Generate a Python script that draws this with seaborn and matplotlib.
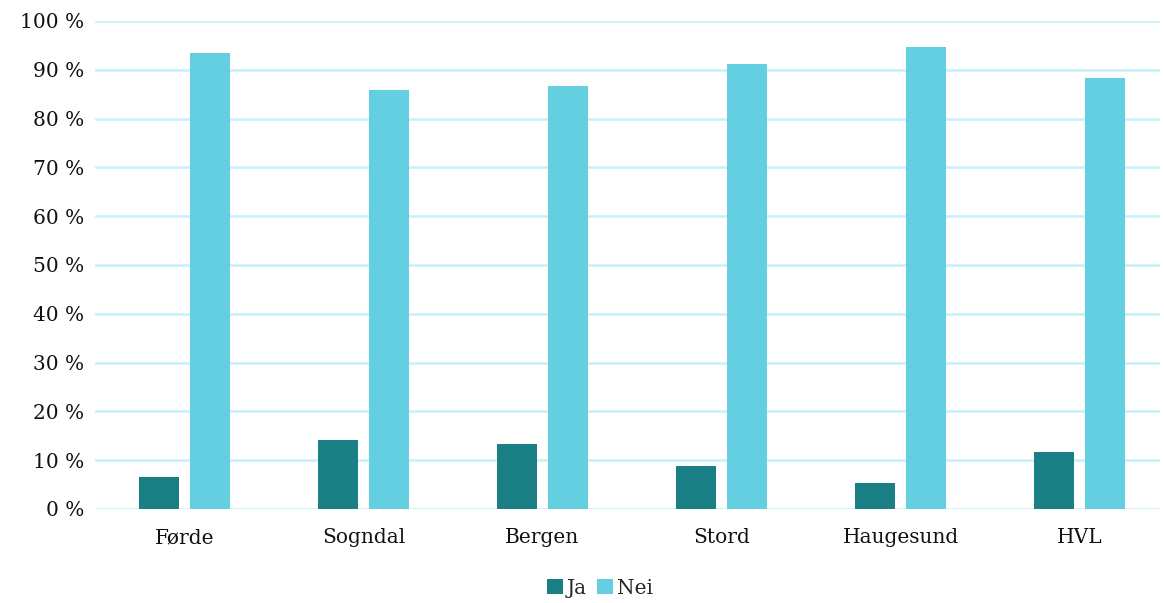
import pandas as pd
import numpy as np
import matplotlib.pyplot as plt
import seaborn as sns

campus = ['Førde', 'Sogndal', 'Bergen', 'Stord', 'Haugesund', 'HVL']
ja = [6.6, 14.1, 13.3, 8.8, 5.3, 11.7]
nei = [93.4, 85.9, 86.7, 91.2, 94.7, 88.3]
yticks = [0, 10, 20, 30, 40, 50, 60, 70, 80, 90, 100]

df = pd.DataFrame({'campus': campus * 2,
                   'svar': ['Ja'] * len(campus) + ['Nei'] * len(campus),
                   'andel': ja + nei})

sns.set_style('white')
plt.rcParams['font.family'] = ['DejaVu Serif']

fig = plt.figure(figsize=(11.64, 6.03), dpi=100)
ax = fig.add_axes([95 / 1164, 94 / 603, (1160 - 95) / 1164, 488 / 603])

sns.barplot(data=df, x='campus', y='andel', hue='svar',
            palette={'Ja': '#1b8086', 'Nei': '#63cfe0'}, saturation=1,
            width=0.57, gap=0.215, linewidth=0, ax=ax, legend=True, zorder=3)

ax.set_ylim(0, 100)
ax.set_xlim(-0.5, (1160 - 95) / 179 - 0.5)
ax.set_yticks(yticks)
ax.set_yticklabels([f'{t} %' for t in yticks])
ax.yaxis.grid(True, color='#c6f0fa', linewidth=1.8, zorder=0)
ax.set_axisbelow(True)
ax.set_xlabel('')
ax.set_ylabel('')
ax.tick_params(axis='both', length=0, labelsize=14.5, colors='#111111')
ax.tick_params(axis='x', pad=14)
ax.tick_params(axis='y', pad=8)
for s in ax.spines.values():
    s.set_visible(False)

handles, labels = ax.get_legend_handles_labels()
ax.get_legend().remove()
fig.legend(handles, labels, loc='center', bbox_to_anchor=(600 / 1164, 1 - 588 / 603),
           ncol=2, frameon=False, fontsize=14.5, handlelength=0.8, handleheight=0.8,
           handletextpad=0.2, columnspacing=0.5)

fig.savefig('out.png', dpi=100)
